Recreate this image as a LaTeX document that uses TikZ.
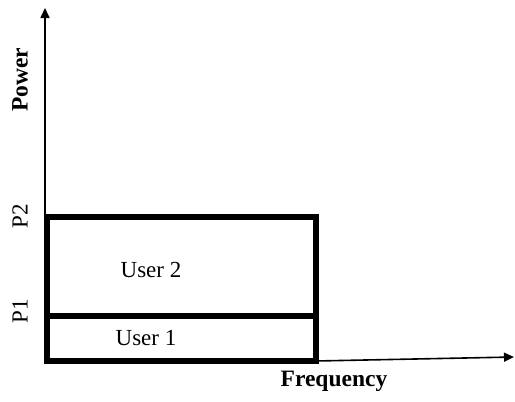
\documentclass[tikz,border=0pt]{standalone}
\usepackage{fontspec}
\setmainfont{Liberation Serif}
\usetikzlibrary{arrows.meta}
\begin{document}
\begin{tikzpicture}[x=1pt,y=-1pt,
  axis/.style={line width=1.6pt,-{Triangle[length=10pt,width=9pt]}},
  band/.style={line width=6pt},
  lbl/.style={font=\fontsize{23}{25}\selectfont,inner sep=0pt},
  blbl/.style={font=\fontsize{23.5}{25}\selectfont\bfseries,inner sep=0pt}]
\useasboundingbox (0,0) rectangle (515,402);
\coordinate (O) at (45,361);
\coordinate (ytip) at (45,8);
\coordinate (xtip) at (514,357);
\coordinate (bl) at (47,361);
\coordinate (tr) at (316,217);
\coordinate (ml) at (47,316);
\coordinate (mr) at (316,316);
\coordinate (br) at (316,361);
\draw[axis] (O) -- (ytip);
\draw[axis] (br) -- (xtip);
\draw[band] (bl) rectangle (tr);
\draw[band] (ml) -- (mr);
\node[blbl,rotate=90] (power) at (20,80) {Power};
\node[lbl,rotate=90] (p2) at (20,216) {P2};
\node[lbl,rotate=90] (p1) at (20,311) {P1};
\node[lbl] (u2) at (151,270) {User 2};
\node[lbl] (u1) at (146,338) {User 1};
\node[blbl] (freq) at (334,381) {Frequency};
\end{tikzpicture}
\end{document}
